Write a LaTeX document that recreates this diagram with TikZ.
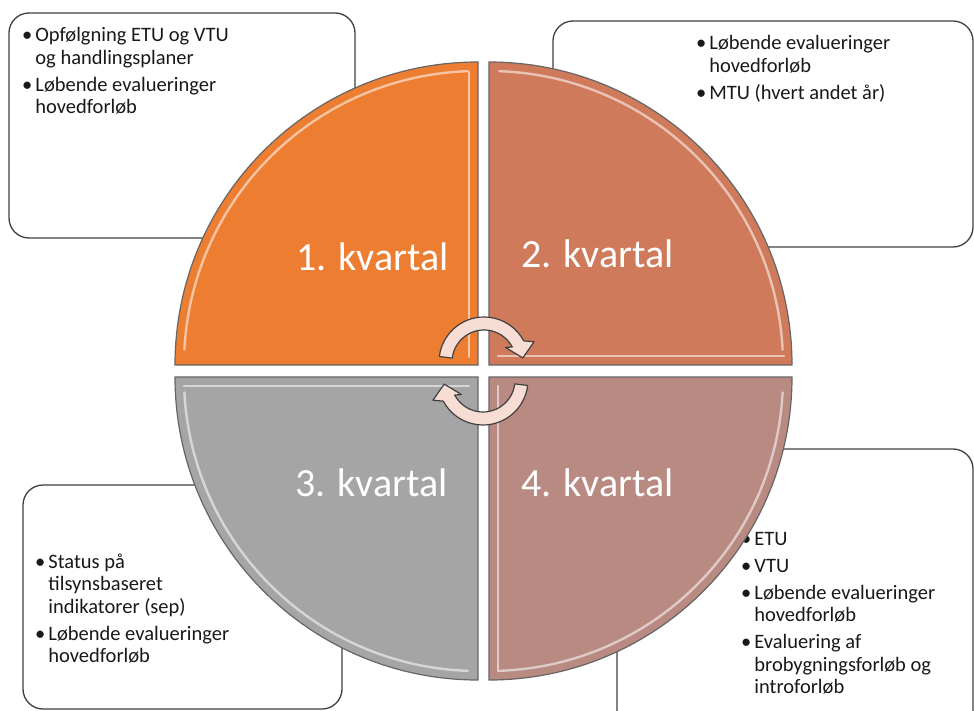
\documentclass[tikz,border=0pt]{standalone}
\usepackage{fontspec}
\setmainfont{Carlito}
\usetikzlibrary{positioning}
\definecolor{kvOne}{HTML}{ED7D31}
\definecolor{kvTwo}{HTML}{CF7A5B}
\definecolor{kvThree}{HTML}{A5A5A5}
\definecolor{kvFour}{HTML}{B88A81}
\definecolor{arrowpink}{HTML}{F8DDD4}
\tikzset{
    x=1pt, y=1pt, % one unit is one pixel of the reference
    infobox/.style={draw=black!75, line width=1.3pt, rounded corners=20pt, fill=white}, % the boxes behind the circle
    infotext/.style={inner sep=0pt, anchor=base west, text=black!90, font=\fontsize{20.5}{22.5}\selectfont},
    quarter/.style={draw=black!60, line width=1.2pt}, % one quarter of the circle
    shine/.style={draw=white, line width=2.4pt, opacity=0.55, line cap=round}, % the light inner edge
    kvlabel/.style={inner sep=0pt, anchor=base west, text=white, font=\fontsize{40}{40}\selectfont},
    turnarrow/.pic={
        \draw[fill=arrowpink, draw=black!75, line width=1.2pt, line join=round]
        (173:45) arc[start angle=173, end angle=28, radius=45] -- (22:54) -- (6:39)
        -- (34:26) -- (28:32) arc[start angle=28, end angle=173, radius=32] -- cycle;
    },
}
\newcommand{\bulletlist}[1]{\begin{tabular}[t]{@{}l@{\hspace{3pt}}l@{}}#1\end{tabular}}

\begin{document}
\begin{tikzpicture}
    \clip (0,0) rectangle (974,-711);
    % text boxes
    \draw[infobox] (9,-13) rectangle (355,-238);
    \draw[infobox] (553,-21) rectangle (973,-247);
    \draw[infobox] (23,-485) rectangle (342,-709);
    \draw[infobox] (617,-449) rectangle (973,-730);
    \node[infotext] (notesOne) at (22,-42) {\bulletlist{
        \textbullet & Opfølgning ETU og VTU\\
        & og handlingsplaner\\[4.5pt]
        \textbullet & Løbende evalueringer\\
        & hovedforløb}};
    \node[infotext] (notesTwo) at (696,-50) {\bulletlist{
        \textbullet & Løbende evalueringer\\
        & hovedforløb\\[4.5pt]
        \textbullet & MTU (hvert andet år)}};
    \node[infotext] (notesThree) at (35,-568) {\bulletlist{
        \textbullet & Status på\\
        & tilsynsbaseret\\
        & indikatorer (sep)\\[4.5pt]
        \textbullet & Løbende evalueringer\\
        & hovedforløb}};
    \node[infotext] (notesFour) at (741,-545) {\bulletlist{
        \textbullet & ETU\\[4.5pt]
        \textbullet & VTU\\[4.5pt]
        \textbullet & Løbende evalueringer\\
        & hovedforløb\\[4.5pt]
        \textbullet & Evaluering af\\
        & brobygningsforløb og\\
        & introforløb}};
    % the four quarters
    \draw[quarter, fill=kvOne] (478,-365) -- (175,-365) arc[start angle=180, end angle=90, radius=303] -- cycle;
    \draw[quarter, fill=kvTwo] (489,-365) -- (489,-62) arc[start angle=90, end angle=0, radius=303] -- cycle;
    \draw[quarter, fill=kvThree] (478,-377) -- (478,-680) arc[start angle=270, end angle=180, radius=303] -- cycle;
    \draw[quarter, fill=kvFour] (489,-377) -- (792,-377) arc[start angle=0, end angle=-90, radius=303] -- cycle;
    \draw[shine] ([shift={(478,-365)}]177:294) arc[start angle=177, end angle=92, radius=294];
    \draw[shine] (469,-72) -- (469,-357);
    \draw[shine] ([shift={(489,-365)}]88:294) arc[start angle=88, end angle=3, radius=294];
    \draw[shine] (498,-356) -- (784,-356);
    \draw[shine] ([shift={(478,-377)}]183:294) arc[start angle=183, end angle=268, radius=294];
    \draw[shine] (184,-386) -- (469,-386);
    \draw[shine] ([shift={(489,-377)}]-3:294) arc[start angle=-3, end angle=-88, radius=294];
    \draw[shine] (498,-386) -- (498,-671);
    % labels
    \node[kvlabel] (kvOneLabel) at (296,-270) {1. kvartal};
    \node[kvlabel] (kvTwoLabel) at (521,-268) {2. kvartal};
    \node[kvlabel] (kvThreeLabel) at (295,-496) {3. kvartal};
    \node[kvlabel] (kvFourLabel) at (521,-496) {4. kvartal};
    % turning arrows in the middle
    \pic at (484,-362) {turnarrow};
    \pic[rotate=180] at (483,-380) {turnarrow};
\end{tikzpicture}
\end{document}
